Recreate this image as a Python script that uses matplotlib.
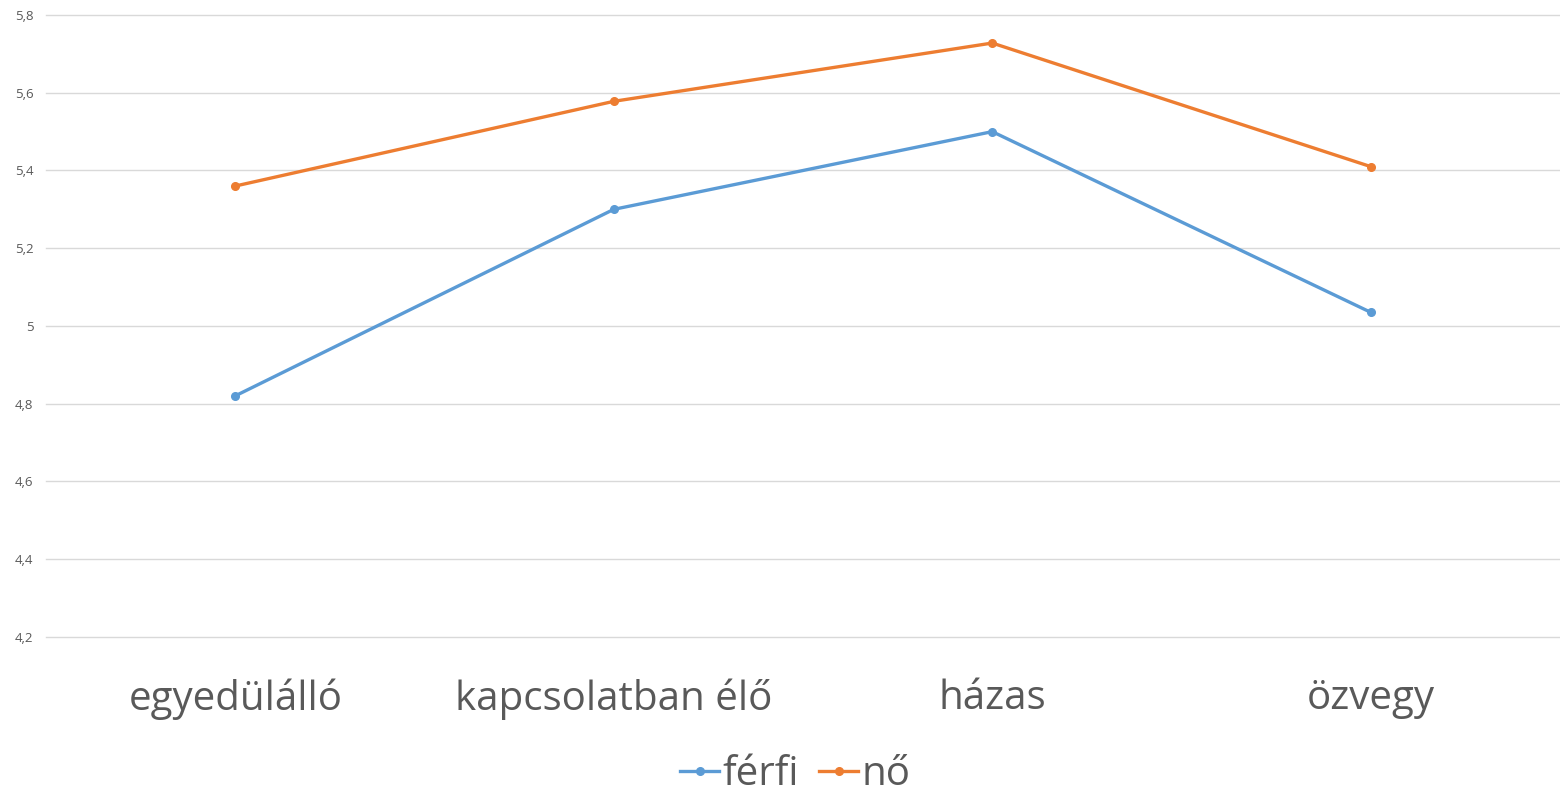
import matplotlib.pyplot as plt
from matplotlib.ticker import FuncFormatter

plt.rcParams['font.family'] = ['Open Sans', 'DejaVu Sans']

categories = ['egyedülálló', 'kapcsolatban élő', 'házas', 'özvegy']
ferfi = [4.82, 5.30, 5.50, 5.035]
no = [5.36, 5.578, 5.728, 5.41]
yticks = [4.2, 4.4, 4.6, 4.8, 5.0, 5.2, 5.4, 5.6, 5.8]

fig = plt.figure(figsize=(15.6, 7.93), dpi=100)
ax = fig.add_axes([0.0295, 0.197, 0.9705, 0.784])

x = range(len(categories))
ax.plot(x, ferfi, color='#5B9BD5', lw=2.4, marker='o', ms=5.5, label='férfi')
ax.plot(x, no, color='#ED7D31', lw=2.4, marker='o', ms=5.5, label='nő')

ax.set_xlim(-0.5, 3.5)
ax.set_ylim(4.2, 5.8)
ax.set_yticks(yticks)
ax.yaxis.set_major_formatter(FuncFormatter(lambda v, p: ('%g' % round(v, 1)).replace('.', ',')))
ax.set_xticks(list(x))
ax.set_xticklabels(categories, fontsize=29, color='#595959')
ax.tick_params(axis='x', length=0, pad=30)
ax.tick_params(axis='y', length=0, labelsize=9.5, labelcolor='#595959', pad=9)
ax.grid(axis='y', color='#d9d9d9', lw=1)
for gl in ax.get_ygridlines():
    gl.set_clip_on(False)
ax.set_axisbelow(True)
for s in ax.spines.values():
    s.set_visible(False)

fig.legend(loc='lower center', bbox_to_anchor=(0.51, -0.048), ncol=2, frameon=False,
           fontsize=29, handlelength=0.95, handletextpad=0.1, columnspacing=0.5,
           labelcolor='#595959')

fig.savefig('out.png', dpi=100)
